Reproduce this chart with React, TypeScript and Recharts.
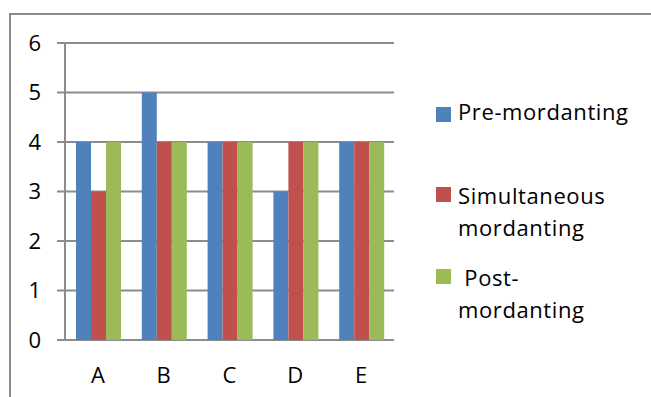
import React from "react";
import { BarChart, Bar, XAxis, YAxis, CartesianGrid } from "recharts";

const categories = ["A", "B", "C", "D", "E"];
const preMordanting = [4, 5, 4, 3, 4];
const simultaneousMordanting = [3, 4, 4, 4, 4];
const postMordanting = [4, 4, 4, 4, 4];
const yTicks = [0, 1, 2, 3, 4, 5, 6];
const boundaryTicks = [0, 1, 2, 3, 4, 5];

const seriesNames = ["Pre-mordanting", "Simultaneous mordanting", " Post-mordanting"];
const legendLines = [["Pre-mordanting"], ["Simultaneous", "mordanting"], ["\u00a0Post-", "mordanting"]];
const colors = ["#4F81BD", "#C0504D", "#9BBB59"];

const data = categories.map((c, i) => ({
  cat: c,
  pre: preMordanting[i],
  sim: simultaneousMordanting[i],
  post: postMordanting[i],
}));

const FONT = "'Open Sans', sans-serif";
const GRID = "#8c8c8c";

export default function App() {
  const legendTops = [95, 179, 261];
  const squareTops = [12, 8, 8];
  return (
    <div style={{ position: "fixed", left: 0, top: 0, width: 651, height: 397, overflow: "hidden", background: "#fff", fontFamily: FONT }}>
      <div style={{ position: "absolute", left: 9, top: 13, width: 700, height: 450, border: `2px solid ${GRID}` }} />
      <div style={{ position: "absolute", left: 0, top: 0 }}>
        <BarChart
          width={651}
          height={397}
          data={data}
          margin={{ top: 43, right: 257, bottom: 0, left: 0 }}
          barCategoryGap={11}
          barGap={0}
        >
          <CartesianGrid xAxisId="cat" vertical={false} stroke={GRID} strokeWidth={2} />
          <XAxis
            xAxisId="edge"
            type="number"
            domain={[0, 5]}
            ticks={boundaryTicks}
            allowDataOverflow
            height={0}
            tick={false}
            tickSize={8}
            stroke={GRID}
            strokeWidth={2}
            axisLine={{ stroke: GRID, strokeWidth: 2 }}
            tickLine={{ stroke: GRID, strokeWidth: 2 }}
          />
          <XAxis
            xAxisId="cat"
            dataKey="cat"
            height={57}
            axisLine={false}
            tickLine={false}
            tickSize={8}
            tickMargin={19}
            tick={{ fill: "#000", fontSize: 22, fontFamily: FONT }}
          />
          <YAxis
            width={65}
            domain={[0, 6]}
            ticks={yTicks}
            interval={0}
            tickSize={8}
            tickMargin={16}
            axisLine={{ stroke: GRID, strokeWidth: 2 }}
            tickLine={{ stroke: GRID, strokeWidth: 2 }}
            tick={{ fill: "#000", fontSize: 22, fontFamily: FONT }}
          />
          <Bar xAxisId="cat" dataKey="pre" name={seriesNames[0]} fill={colors[0]} isAnimationActive={false} />
          <Bar xAxisId="cat" dataKey="sim" name={seriesNames[1]} fill={colors[1]} isAnimationActive={false} />
          <Bar xAxisId="cat" dataKey="post" name={seriesNames[2]} fill={colors[2]} isAnimationActive={false} />
        </BarChart>
      </div>
      {legendLines.map((lines, i) => (
        <div key={i} style={{ position: "absolute", left: 436, top: legendTops[i] }}>
          <div style={{ position: "absolute", left: 0, top: squareTops[i], width: 15, height: 15, background: colors[i] }} />
          <div style={{ position: "absolute", left: 22, top: 0, fontSize: 22, lineHeight: "32px", color: "#000", whiteSpace: "nowrap", letterSpacing: 0.6 }}>
            {lines.map((l, j) => (
              <div key={j}>{l}</div>
            ))}
          </div>
        </div>
      ))}
    </div>
  );
}
